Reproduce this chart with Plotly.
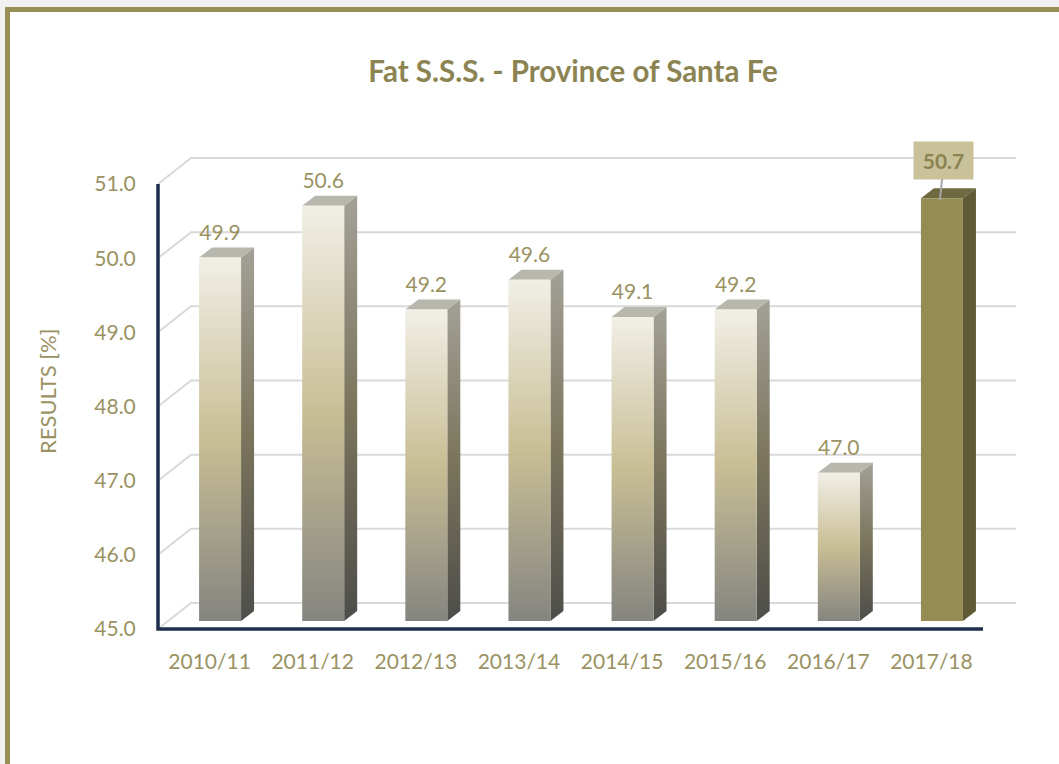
import plotly.graph_objects as go

# ---------------- data ----------------
categories = ["2010/11", "2011/12", "2012/13", "2013/14", "2014/15", "2015/16", "2016/17", "2017/18"]
values = [49.9, 50.6, 49.2, 49.6, 49.1, 49.2, 47.0, 50.7]
y_tick_values = [45, 46, 47, 48, 49, 50, 51]
y_tick_labels = ["45.0", "46.0", "47.0", "48.0", "49.0", "50.0", "51.0"]
highlight_index = 7
title_text = "Fat S.S.S. - Province of Santa Fe"
y_title = "RESULTS [%]"

# ---------------- geometry (pixels) ----------------
W, H = 1059, 764
front_left_px, front_right_px = 158, 983
y_lo_px, y_hi_px = 629, 184
y_lo, y_hi = 45, 51
n = len(categories)
cat_px = (front_right_px - front_left_px) / n
val_px = (y_lo_px - y_hi_px) / (y_hi - y_lo)

plot_left, plot_right, plot_top, plot_bottom = 150, 1028, 140, 640
plot_w = plot_right - plot_left
plot_h = plot_bottom - plot_top
x_min = -0.5 - (front_left_px - plot_left) / cat_px
x_max = n - 0.5 + (plot_right - front_right_px) / cat_px
y_min = y_lo - (plot_bottom - y_lo_px) / val_px
y_max = y_hi + (y_hi_px - plot_top) / val_px


def dx(px):
    return px / cat_px


def dy(px):
    return px / val_px


back_dx, back_dy = dx(33), dy(26)
face_dx, face_dy = dx(10.5), dy(8)
bar_w = dx(42)
depth_dx, depth_dy = dx(13), dy(10)

# ---------------- colours ----------------
olive = "#968f56"
label_col = "#9a9262"
title_col = "#8b8452"
grid_col = "#d9d9d9"
axis_col = "#1d2f4c"
front_scale = [[0, "#858580"], [0.5, "#c8be95"], [1, "#f1efe6"]]
side_scale = [[0, "#4d4d4a"], [0.5, "#7b755c"], [1, "#a3a197"]]
top_col = "#b8b7ad"
hl_front, hl_side, hl_top = "#958c54", "#605a36", "#6f693f"

fig = go.Figure()

# back-wall gridlines
gx, gy = [], []
for t in y_tick_values:
    gx += [-0.5, -0.5 + back_dx, n - 0.5 + back_dx, None]
    gy += [t, t + back_dy, t + back_dy, None]
fig.add_trace(go.Scatter(x=gx, y=gy, mode="lines", line=dict(color=grid_col, width=2),
                         hoverinfo="skip", showlegend=False))

# 3D bars
base = y_lo + face_dy
for i, v in enumerate(values):
    top = v + face_dy
    xl = i + face_dx - bar_w / 2
    xr = i + face_dx + bar_w / 2
    hl = (i == highlight_index)
    # side face
    sx = [xr, xr + depth_dx, xr + depth_dx, xr, xr]
    sy = [base, base + depth_dy, top + depth_dy, top, base]
    side_kw = dict(fillcolor=hl_side) if hl else dict(fillgradient=dict(type="vertical", colorscale=side_scale))
    fig.add_trace(go.Scatter(x=sx, y=sy, mode="lines", fill="toself", line=dict(width=0),
                             hoverinfo="skip", showlegend=False, **side_kw))
    # top face
    tx = [xl, xr, xr + depth_dx, xl + depth_dx, xl]
    ty = [top, top, top + depth_dy, top + depth_dy, top]
    fig.add_trace(go.Scatter(x=tx, y=ty, mode="lines", fill="toself", line=dict(width=0),
                             fillcolor=hl_top if hl else top_col,
                             hoverinfo="skip", showlegend=False))
    # front face
    fx = [xl, xr, xr, xl, xl]
    fy = [base, base, top, top, base]
    front_kw = dict(fillcolor=hl_front) if hl else dict(fillgradient=dict(type="vertical", colorscale=front_scale))
    fig.add_trace(go.Scatter(x=fx, y=fy, mode="lines", fill="toself", line=dict(width=0),
                             hoverinfo="skip", showlegend=False, **front_kw))

# data labels (regular)
lx = [i + face_dx for i in range(n) if i != highlight_index]
ly = [v + face_dy + depth_dy + dy(13) for i, v in enumerate(values) if i != highlight_index]
lt = [f"{v:.1f}" for i, v in enumerate(values) if i != highlight_index]
fig.add_trace(go.Scatter(x=lx, y=ly, mode="text", text=lt, textposition="middle center",
                         textfont=dict(family="Lato", size=21, color=label_col),
                         hoverinfo="skip", showlegend=False, cliponaxis=False))

# highlighted label box with leader line
hv = values[highlight_index]
fig.add_annotation(x=highlight_index + face_dx - dx(2), y=hv + face_dy - dy(2), xref="x", yref="y",
                   text=f"<b>{hv:.1f}</b>", showarrow=True, arrowhead=0, arrowwidth=2,
                   arrowcolor="#a6a6a6", ax=4, ay=-40, width=59, height=37, borderpad=0,
                   bgcolor="#c8c19a", font=dict(family="Lato", size=21, color="#8b8350"))

# front axis lines
fig.add_trace(go.Scatter(x=[-0.5, -0.5, n - 0.5], y=[y_hi, y_lo, y_lo], mode="lines",
                         line=dict(color=axis_col, width=3.5), hoverinfo="skip",
                         showlegend=False, cliponaxis=False))

# outer frame
fig.add_shape(type="rect", xref="paper", yref="paper",
              x0=(7.5 - plot_left) / plot_w, x1=(1080 - plot_left) / plot_w,
              y0=(plot_bottom - 790) / plot_h, y1=(plot_bottom - 9.5) / plot_h,
              line=dict(color=olive, width=5), fillcolor="white", layer="below")

# y-axis title
fig.add_annotation(text=y_title, xref="paper", yref="paper",
                   x=(47 - plot_left) / plot_w, y=(plot_bottom - 392) / plot_h,
                   textangle=-90, showarrow=False, xanchor="center", yanchor="middle",
                   font=dict(family="Lato", size=22, color=label_col))

fig.update_layout(
    width=W, height=H,
    margin=dict(l=plot_left, r=W - plot_right, t=plot_top, b=H - plot_bottom),
    paper_bgcolor="#f1f1f1", plot_bgcolor="rgba(0,0,0,0)",
    title=dict(text=f"<b>{title_text}</b>", x=573 / W, xref="container", xanchor="center",
               y=1 - 72 / H, yref="container", yanchor="middle",
               font=dict(family="Lato", size=29.5, color=title_col)),
    xaxis=dict(range=[x_min, x_max], tickvals=list(range(n)), ticktext=categories,
               showgrid=False, zeroline=False, showline=False, ticks="outside", ticklen=3,
               tickcolor="rgba(0,0,0,0)", tickfont=dict(family="Lato", size=21, color=label_col),
               fixedrange=True),
    yaxis=dict(range=[y_min, y_max], tickvals=y_tick_values, ticktext=y_tick_labels,
               showgrid=False, zeroline=False, showline=False, ticks="outside", ticklen=9,
               tickcolor="rgba(0,0,0,0)", tickfont=dict(family="Lato", size=21, color=label_col),
               fixedrange=True),
    showlegend=False,
)

fig.write_html("out.html", config={"displayModeBar": False},
               post_script="document.body.style.margin='0';document.body.style.background='#f1f1f1';")
